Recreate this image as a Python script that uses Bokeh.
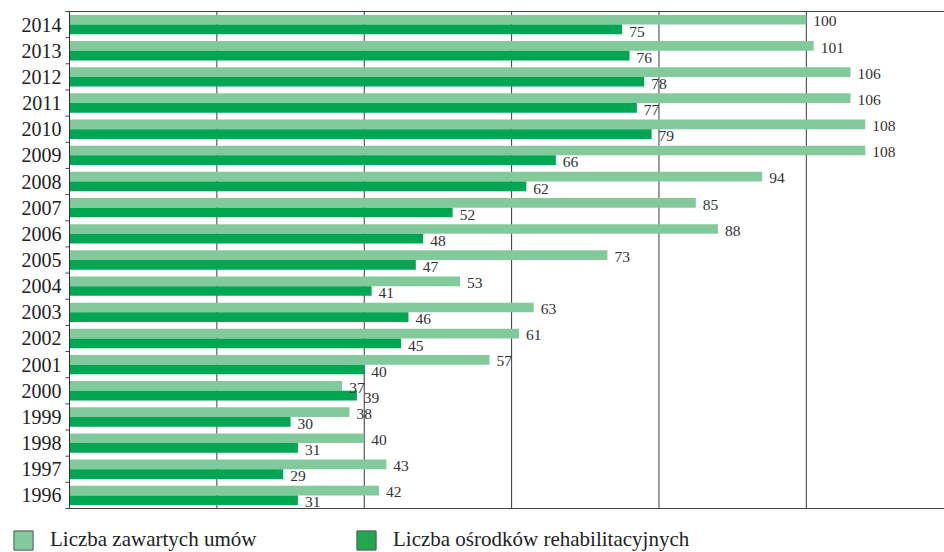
from bokeh.plotting import figure
from bokeh.models import ColumnDataSource, Range1d, Legend, LegendItem
from bokeh.transform import dodge
from bokeh.core.properties import value
from bokeh.embed import file_html
from bokeh.resources import INLINE

years = [1996, 1997, 1998, 1999, 2000, 2001, 2002, 2003, 2004, 2005,
         2006, 2007, 2008, 2009, 2010, 2011, 2012, 2013, 2014]
umowy = [42, 43, 40, 38, 37, 57, 61, 63, 53, 73, 88, 85, 94, 108, 108, 106, 106, 101, 100]
osrodki = [31, 29, 31, 30, 39, 40, 45, 46, 41, 47, 48, 52, 62, 66, 79, 77, 78, 76, 75]
series_names = ["Liczba zawartych umów", "Liczba ośrodków rehabilitacyjnych"]
grid_ticks = [20, 40, 60, 80, 100]

LIGHT = "#82CA9C"
DARK = "#00A651"
DARK_SWATCH = "#22A64E"
FONT = "Liberation Serif"
W, H = 944, 552
LEFT_PX, TOP_PX, BOTTOM_PX = 69, 11, 44
XMAX = 118.75

n = len(years)
idx = list(range(n))
KX = (W - LEFT_PX) / XMAX
KY = (H - TOP_PX - BOTTOM_PX) / n
y_lo, y_hi = -0.5, n - 0.5

src = ColumnDataSource(dict(
    y=idx, umowy=umowy, osrodki=osrodki,
    ul=[str(v) for v in umowy], ol=[str(v) for v in osrodki],
    yl=[str(v) for v in years],
))

p = figure(width=W, height=H,
           x_range=Range1d(-LEFT_PX / KX, XMAX),
           y_range=Range1d(y_lo - BOTTOM_PX / KY, y_hi + TOP_PX / KY),
           output_backend="svg", toolbar_location=None, min_border=0)
p.axis.visible = False
p.grid.visible = False
p.outline_line_color = None
p.background_fill_color = "white"
p.border_fill_color = "white"

# grid lines
p.segment(x0=grid_ticks, x1=grid_ticks, y0=[y_lo] * len(grid_ticks), y1=[y_hi] * len(grid_ticks),
          line_color="#3a3a3a", line_width=1)

# bars
p.hbar(y=dodge("y", 0.185, range=p.y_range), right="umowy", left=0, height=0.37,
       fill_color=LIGHT, line_color=None, source=src)
p.hbar(y=dodge("y", -0.185, range=p.y_range), right="osrodki", left=0, height=0.37,
       fill_color=DARK, line_color=None, source=src)

# value labels
p.text(x="umowy", y=dodge("y", 0.12, range=p.y_range), text="ul", x_offset=7,
       text_font=value(FONT), text_font_size="15.5px", text_baseline="middle",
       text_color="#333333", source=src)
p.text(x="osrodki", y=dodge("y", -0.27, range=p.y_range), text="ol", x_offset=7,
       text_font=value(FONT), text_font_size="15.5px", text_baseline="middle",
       text_color="#333333", source=src)

# frame: top and bottom lines, y-axis line
p.segment(x0=[0, 0], x1=[XMAX, XMAX], y0=[y_hi, y_lo], y1=[y_hi, y_lo],
          line_color="#444444", line_width=1)
p.segment(x0=[0], x1=[0], y0=[y_lo], y1=[y_hi], line_color="#333333", line_width=1)

# category boundary ticks (outward, 4px)
bounds = [i - 0.5 for i in range(n + 1)]
p.segment(x0=[0] * len(bounds), x1=[-4 / KX] * len(bounds), y0=bounds, y1=bounds,
          line_color="#444444", line_width=1)

# year labels
p.text(x=0, y="y", text="yl", x_offset=-8, text_align="right", text_baseline="middle",
       text_font=value(FONT), text_font_size="20px", text_color="#222222", source=src)

# legend (swatch-only dummy renderers, no visible data)
nan = float("nan")
r_light = p.rect(x=[nan], y=[nan], width=1, height=1, fill_color=LIGHT, line_color="#555555")
r_dark = p.rect(x=[nan], y=[nan], width=1, height=1, fill_color=DARK_SWATCH, line_color="#555555")
for r, name, loc in [(r_light, series_names[0], (11, 0)),
                     (r_dark, series_names[1], (354, 0))]:
    lg = Legend(items=[LegendItem(label=name, renderers=[r])], location=loc,
                glyph_width=24, glyph_height=24, label_standoff=15,
                padding=0, margin=0, border_line_color=None,
                background_fill_alpha=0, label_text_font=FONT,
                label_text_font_size="21px", label_text_color="#222222",
                label_height=24)
    p.add_layout(lg)

open("out.html", "w").write(file_html(p, INLINE))
